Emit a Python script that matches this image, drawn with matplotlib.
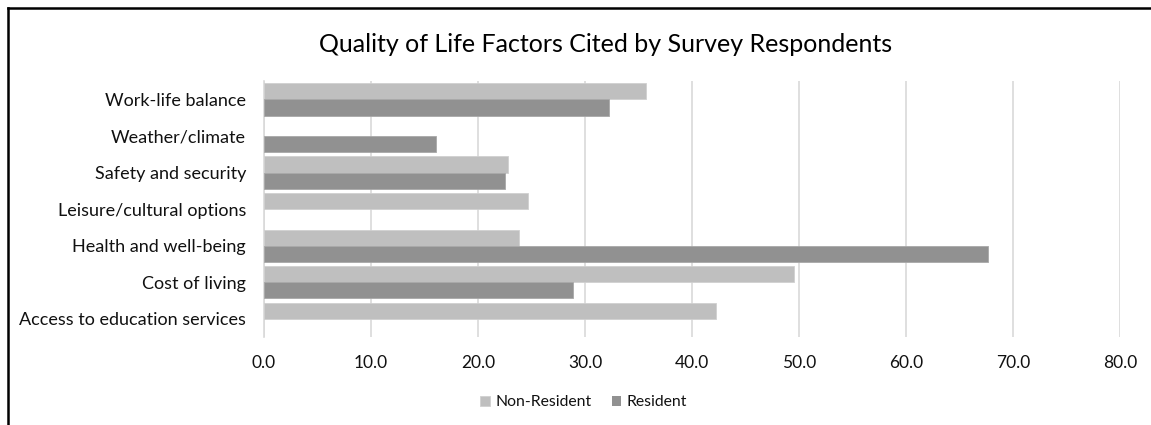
import matplotlib.pyplot as plt
import numpy as np
from matplotlib.lines import Line2D

categories = ["Access to education services", "Cost of living", "Health and well-being",
              "Leisure/cultural options", "Safety and security", "Weather/climate",
              "Work-life balance"]
non_resident = [42.2, 49.5, 23.8, 24.7, 22.8, 0.0, 35.7]
resident = [0.0, 28.9, 67.7, 0.0, 22.5, 16.1, 32.2]
xticks = [0, 10, 20, 30, 40, 50, 60, 70, 80]

plt.rcParams['font.family'] = ['Lato', 'DejaVu Sans']

fig = plt.figure(figsize=(11.51, 4.25), dpi=100)
ax = fig.add_axes([0.2294, 0.207, 0.7436, 0.602])

y = np.arange(len(categories))
h = 0.44
# no outline on empty bars, otherwise a stub shows at zero
lw_nr = [0.6 if v > 0 else 0 for v in non_resident]
lw_r = [0.6 if v > 0 else 0 for v in resident]
ax.barh(y + h / 2, non_resident, height=h, color="#BFBFBF", edgecolor="#D0D0D0",
        linewidth=lw_nr, label="Non-Resident", zorder=3)
ax.barh(y - h / 2, resident, height=h, color="#919191", edgecolor="#A8A8A8",
        linewidth=lw_r, label="Resident", zorder=3)

ax.set_xlim(0, 80)
ax.set_ylim(-0.5, len(categories) - 0.5)
ax.set_xticks(xticks)
ax.set_xticklabels([f"{v:.1f}" for v in xticks], fontsize=12.5, color="#111111")
ax.set_yticks(y)
ax.set_yticklabels(categories, fontsize=13, color="#111111")
ax.tick_params(axis="both", length=0)
ax.tick_params(axis="x", pad=13)
ax.tick_params(axis="y", pad=13)
ax.xaxis.grid(True, color="#D9D9D9", linewidth=1.2, zorder=0)
for s in ["top", "right", "bottom"]:
    ax.spines[s].set_visible(False)
ax.spines["left"].set_color("#D9D9D9")
ax.spines["left"].set_linewidth(1.2)

fig.text(0.526, 0.896, "Quality of Life Factors Cited by Survey Respondents",
         ha="center", va="center", fontsize=18, color="#000000")

fig.legend(loc="center", bbox_to_anchor=(0.507, 0.054), ncol=2, frameon=False,
           fontsize=11.3, handlelength=0.6, handleheight=0.6, columnspacing=1.3,
           handletextpad=0.35, labelcolor="#111111")

# outer frame (only top and left edges visible in the crop)
fig.add_artist(Line2D([0.007, 1.0], [0.981, 0.981], transform=fig.transFigure,
                      color="black", linewidth=1.8))
fig.add_artist(Line2D([0.007, 0.007], [0.0, 0.981], transform=fig.transFigure,
                      color="black", linewidth=1.8))

fig.savefig("out.png", dpi=100, facecolor="white")
